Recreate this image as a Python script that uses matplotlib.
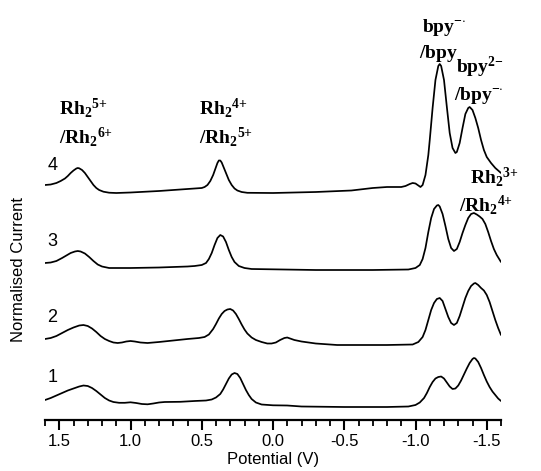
import numpy as np
import matplotlib
matplotlib.use('Agg')
import matplotlib.pyplot as plt

plt.rcParams['font.family'] = ['Liberation Sans', 'DejaVu Sans']
plt.rcParams['mathtext.fontset'] = 'custom'
plt.rcParams['mathtext.rm'] = 'Liberation Serif:bold'
plt.rcParams['mathtext.it'] = 'Liberation Serif:bold'
plt.rcParams['mathtext.bf'] = 'Liberation Serif:bold'

# potentials (V) and stacked, normalised currents (image rows)
pot_4 = [1.60, 1.56, 1.52, 1.49, 1.46, 1.44, 1.42, 1.40, 1.38, 1.37, 1.36, 1.34, 1.32, 1.30,
         1.28, 1.26, 1.24, 1.22, 1.19, 1.15, 1.10, 1.00, 0.80, 0.60, 0.55, 0.50, 0.48, 0.46,
         0.44, 0.42, 0.40, 0.39, 0.38, 0.37, 0.36, 0.35, 0.33, 0.31, 0.29, 0.27, 0.25, 0.22,
         0.18, 0.00, -0.30, -0.55, -0.70, -0.80, -0.90, -0.93, -0.96, -0.98, -1.00, -1.02,
         -1.035, -1.05, -1.07, -1.09, -1.10, -1.12, -1.14, -1.16, -1.17, -1.18, -1.20, -1.22,
         -1.24, -1.26, -1.28, -1.29, -1.31, -1.33, -1.35, -1.37, -1.38, -1.40, -1.42, -1.44,
         -1.46, -1.48, -1.50, -1.53, -1.56, -1.60]
cur_4 = [185, 184.5, 183, 181, 178.5, 176, 173, 170.5, 168.5, 168, 168.3, 170, 173, 177,
         181, 185, 188, 190, 191.7, 192.7, 193, 192.5, 191, 189, 188.5, 188, 187, 185,
         181, 175, 167, 163, 160.5, 160.5, 162.5, 166, 173, 180, 185, 188.5, 190.5, 192,
         192.8, 193, 192, 190.5, 188, 187, 187, 186, 184, 183, 183.5, 185.5,
         187, 185, 175, 155, 140, 108, 80, 66, 64, 66, 80, 107,
         133, 148, 153, 152, 143, 128, 114, 108, 107, 110, 118, 128,
         140, 150, 157, 163, 168, 173]

pot_3 = [1.60, 1.56, 1.52, 1.48, 1.45, 1.42, 1.39, 1.37, 1.35, 1.32, 1.29, 1.26, 1.23, 1.20,
         1.15, 1.00, 0.80, 0.60, 0.55, 0.50, 0.47, 0.45, 0.43, 0.41, 0.39, 0.37, 0.35, 0.33,
         0.31, 0.29, 0.27, 0.24, 0.20, 0.15, -0.30, -0.70, -0.95, -1.00, -1.03, -1.05, -1.07,
         -1.09, -1.11, -1.13, -1.15, -1.16, -1.17, -1.19, -1.21, -1.23, -1.25, -1.27, -1.29,
         -1.31, -1.33, -1.35, -1.37, -1.39, -1.41, -1.43, -1.45, -1.47, -1.49, -1.51, -1.53,
         -1.55, -1.57, -1.60]
cur_3 = [263, 262.5, 261, 258, 255.5, 253, 251.5, 251, 251.5, 253.5, 257, 261, 264.5, 266.5,
         268, 268, 267.5, 266.5, 266, 265, 263, 259, 253, 245, 238, 235, 236.5, 242,
         250, 257, 262, 266, 268, 269, 270, 270, 269.5, 268, 265, 259, 248,
         232, 218, 209, 205.5, 205, 206.5, 214, 226, 239, 248, 251, 249,
         242, 233, 225, 218, 214, 213, 214.5, 216.5, 219, 224, 232, 241,
         249, 255, 262]

pot_2 = [1.60, 1.56, 1.52, 1.48, 1.44, 1.40, 1.36, 1.33, 1.30, 1.27, 1.24, 1.21, 1.18, 1.15,
         1.12, 1.09, 1.06, 1.03, 1.00, 0.97, 0.93, 0.88, 0.80, 0.70, 0.60, 0.52, 0.48, 0.45,
         0.42, 0.40, 0.38, 0.36, 0.34, 0.32, 0.30, 0.28, 0.26, 0.24, 0.22, 0.20, 0.18, 0.15,
         0.12, 0.08, 0.04, 0.01, -0.02, -0.05, -0.08, -0.10, -0.12, -0.15, -0.20, -0.30,
         -0.45, -0.80, -0.98, -1.02, -1.05, -1.07, -1.09, -1.11, -1.13, -1.15, -1.17, -1.19,
         -1.21, -1.23, -1.25, -1.27, -1.29, -1.31, -1.33, -1.35, -1.37, -1.39, -1.41, -1.42,
         -1.44, -1.46, -1.48, -1.50, -1.52, -1.54, -1.56, -1.58, -1.60]
cur_2 = [339, 338, 336, 333, 330, 327.5, 325.5, 325, 326, 328.5, 332, 336, 339, 341,
         342.5, 343, 342.5, 341.5, 341, 341.5, 342.5, 343, 342, 340.5, 339, 338, 337, 334.5,
         329, 324, 318.5, 314, 311, 309.5, 309, 310.5, 314, 319, 324.5, 329.5, 333.5, 337.5,
         340, 342, 343.5, 343.5, 342.5, 340, 338, 337.5, 338.5, 340, 341.5, 343.5,
         345, 345, 344.5, 342, 337, 330, 320, 310, 303, 299, 298, 301,
         309, 317, 323, 325, 323, 316, 307, 298, 291, 286, 283.5, 283,
         285, 288, 290.5, 295, 302, 311, 320, 328, 335]

pot_1 = [1.60, 1.56, 1.52, 1.48, 1.44, 1.40, 1.36, 1.33, 1.30, 1.27, 1.24, 1.21, 1.18, 1.15,
         1.12, 1.08, 1.04, 1.00, 0.96, 0.92, 0.88, 0.84, 0.80, 0.76, 0.65, 0.55, 0.47, 0.43,
         0.40, 0.37, 0.35, 0.33, 0.31, 0.29, 0.27, 0.25, 0.23, 0.21, 0.19, 0.17, 0.15, 0.12,
         0.08, 0.00, -0.10, -0.20, -0.50, -0.80, -0.95, -1.00, -1.03, -1.06, -1.08, -1.10,
         -1.12, -1.14, -1.16, -1.18, -1.20, -1.22, -1.24, -1.26, -1.28, -1.30, -1.32, -1.34,
         -1.36, -1.38, -1.40, -1.41, -1.42, -1.44, -1.46, -1.48, -1.50, -1.52, -1.54, -1.56,
         -1.58, -1.60]
cur_1 = [400, 398, 395.5, 393, 390.5, 388.5, 386.5, 385.5, 386, 388, 391, 394.5, 398, 400.5,
         402, 402.8, 402.8, 402.3, 403, 404, 404.3, 403.5, 402.5, 402, 401.8, 401, 400.5, 399.5,
         397.5, 394, 389.5, 384, 378.5, 374.5, 373, 374, 378, 384, 390, 395, 399, 402.5,
         404.5, 405.3, 405.5, 406.5, 407, 407, 406.5, 405, 402.5, 398, 393, 387,
         382, 378.5, 377, 376.5, 378.5, 382.5, 386.5, 389, 388.5, 385.5, 380.5, 374.5,
         368.5, 363, 359, 358, 358.5, 362, 368, 375, 381.5, 387, 391.5, 395,
         398.5, 401]

traces = [(pot_1, cur_1), (pot_2, cur_2), (pot_3, cur_3), (pot_4, cur_4)]
trace_names = ['1', '2', '3', '4']
name_y = [378, 318, 242, 165]

major_ticks = [1.5, 1.0, 0.5, 0.0, -0.5, -1.0, -1.5]
tick_labels = ['1.5', '1.0', '0.5', '0.0', '-0.5', '-1.0', '-1.5']

BASE = 420  # image row of the x axis, used to turn read rows into heights

fig = plt.figure(figsize=(5.41, 4.71), dpi=100)
ax = fig.add_axes([45 / 541, 1 - 420 / 471, 456 / 541, 410 / 471])

for pot, cur in traces:
    ax.plot(pot, BASE - np.array(cur), color='black', lw=1.25,
            solid_joinstyle='round', solid_capstyle='round')

ax.set_xlim(1.6, -1.6)
ax.set_ylim(0, 410)
for s in ['top', 'right', 'left']:
    ax.spines[s].set_visible(False)
ax.spines['bottom'].set_linewidth(1.6)
ax.set_yticks([])
ax.set_xticks(major_ticks)
ax.set_xticklabels(tick_labels)
ax.set_xticks(np.arange(-1.6, 1.61, 0.1), minor=True)
ax.tick_params(axis='x', which='major', length=7, width=1.5, labelsize=12, pad=3)
ax.tick_params(axis='x', which='minor', length=4, width=1.3)
ax.set_xlabel('Potential (V)', fontsize=12, labelpad=2)
ax.set_ylabel('Normalised Current', fontsize=12)
ax.yaxis.set_label_coords(-0.042, (420 - 270) / 410)

def to_v(px):
    return (272.7 - px) / 142.4

for name, yy in zip(trace_names, name_y):
    ax.text(to_v(52), BASE - yy, name, fontsize=13, ha='center', va='center')

labels = [
    (59, 108, r'$\mathrm{Rh}_2{}^{5{+}}$'),
    (59, 137, r'$\mathrm{/Rh}_2{}^{6{+}}$'),
    (199, 108, r'$\mathrm{Rh}_2{}^{4{+}}$'),
    (199, 137, r'$\mathrm{/Rh}_2{}^{5{+}}$'),
    (422, 27, r'$\mathrm{bpy}^{{-}{\cdot}}$'),
    (419, 54, r'$\mathrm{/bpy}$'),
    (456, 67, r'$\mathrm{bpy}^{2{-}}$'),
    (454, 96, r'$\mathrm{/bpy}^{{-}{\cdot}}$'),
    (470, 177, r'$\mathrm{Rh}_2{}^{3{+}}$'),
    (459, 205, r'$\mathrm{/Rh}_2{}^{4{+}}$'),
]
for px, py, s in labels:
    ax.text(to_v(px), BASE - py, s, fontsize=14, ha='left', va='center', clip_on=False)

fig.savefig('out.png', dpi=100)
